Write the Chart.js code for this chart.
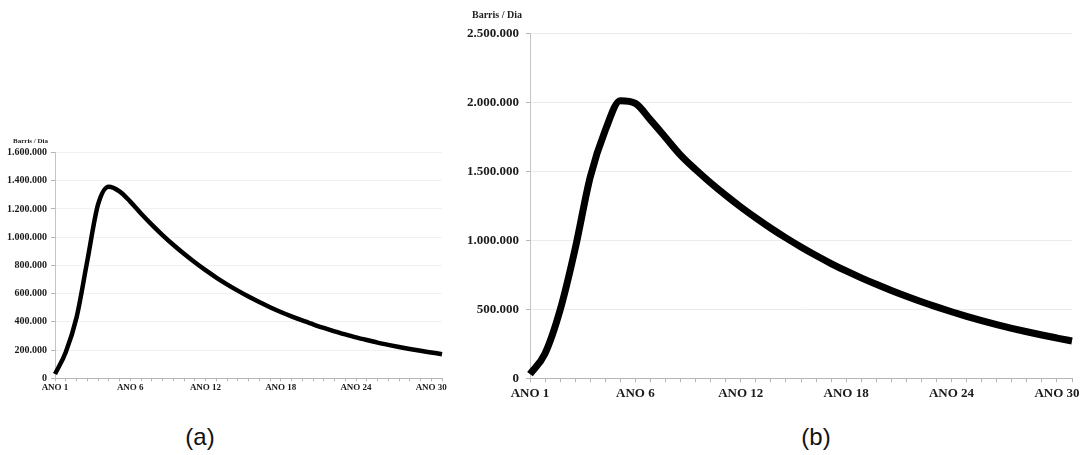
<!DOCTYPE html>
<html lang="pt-BR">
<head>
<meta charset="utf-8">
<title>Produção - Barris / Dia</title>
<script src="https://cdn.jsdelivr.net/npm/chart.js@4.4.1/dist/chart.umd.min.js"></script>
<style>
    html, body { margin: 0; padding: 0; background: #fff; }
    #pagina { position: relative; width: 1083px; height: 455px; overflow: hidden; }
    canvas { position: absolute; }
    #graficoA { left: 0; top: 130px; }
    #graficoB { left: 450px; top: 0; }
    .unidade { position: absolute; font-family: "Liberation Serif", serif; font-weight: bold; color: #222; white-space: nowrap; }
    .legenda { position: absolute; font-family: "Liberation Sans", Arial, sans-serif; font-size: 24px; color: #111; transform: translateX(-50%); }
</style>
</head>
<body>
<div id="pagina">
    <canvas id="graficoA" width="460" height="270"></canvas>
    <canvas id="graficoB" width="633" height="400"></canvas>
    <div class="unidade" style="left:13px; top:137px; font-size:7px;">Barris / Dia</div>
    <div class="unidade" style="left:472px; top:9px; font-size:10px;">Barris / Dia</div>
    <div class="legenda" style="left:200px; top:423px;">(a)</div>
    <div class="legenda" style="left:816px; top:423px;">(b)</div>
</div>

<script>
// ==============================================
// DADOS
// ==============================================
const rotulosAno = ['ANO 1', 'ANO 6', 'ANO 12', 'ANO 18', 'ANO 24', 'ANO 30'];

// produção (barris/dia), cenário (a)
const producaoA = [
    30000, 185000, 430000, 830000, 1230000, 1358000, 1325000, 1252000, 1168000, 1089000,
    1015000, 946000, 882000, 822000, 766000, 714000, 666000, 621000, 579000, 540000,
    504000, 470000, 439000, 410000, 383000, 357000, 333000, 311000, 290000, 271000,
    253000, 237000, 222000, 208000, 195000, 183000, 171000
];

// produção (barris/dia), cenário (b)
const producaoB = [
    30000, 180000, 495000, 940000, 1460000, 1800000, 2015000, 1995000, 1875000, 1748000,
    1620000, 1515000, 1418000, 1328000, 1243000, 1164000, 1089000, 1019000, 953000, 891000,
    833000, 779000, 729000, 682000, 637000, 595000, 555000, 518000, 483000, 450000,
    419000, 390000, 363000, 338000, 314000, 292000, 271000
];

const ticksA = [0, 200000, 400000, 600000, 800000, 1000000, 1200000, 1400000, 1600000];
const ticksB = [0, 500000, 1000000, 1500000, 2000000, 2500000];

// um rótulo a cada 7 marcas do eixo
const periodos = producaoA.map((_, i) => (i % 7 === 0 ? rotulosAno[i / 7] : ''));

// ==============================================
// UTILITÁRIOS
// ==============================================
function formatarNumero(v) {
    return String(Math.round(v)).replace(/\B(?=(\d{3})+(?!\d))/g, '.');
}

function criarGrafico(id, dados, ticks, cfg) {
    const ctx = document.getElementById(id);
    return new Chart(ctx, {
        type: 'line',
        data: {
            labels: periodos,
            datasets: [{
                data: dados,
                borderColor: '#000',
                borderWidth: cfg.linha,
                pointRadius: 0,
                cubicInterpolationMode: 'monotone',
                borderJoinStyle: 'round',
                fill: false
            }]
        },
        options: {
            responsive: false,
            animation: false,
            devicePixelRatio: 1,
            layout: { padding: { top: cfg.topo, right: cfg.direita, bottom: 0, left: 0 } },
            plugins: { legend: { display: false }, tooltip: { enabled: false } },
            scales: {
                x: {
                    type: 'category',
                    offset: false,
                    afterFit: s => { s.height = cfg.alturaX; },
                    grid: { drawOnChartArea: false, drawTicks: true, tickLength: cfg.marcaX, color: '#b5b5b5' },
                    border: { color: '#b5b5b5', width: 1 },
                    ticks: {
                        autoSkip: false,
                        maxRotation: 0,
                        padding: cfg.respiroX,
                        color: '#1a1a1a',
                        font: { family: 'Liberation Serif', weight: 'bold', size: cfg.fonteX }
                    }
                },
                y: {
                    min: 0,
                    max: ticks[ticks.length - 1],
                    afterFit: s => { s.width = cfg.larguraY; },
                    afterBuildTicks: s => { s.ticks = ticks.map(v => ({ value: v })); },
                    grid: { color: cfg.corGrade, tickColor: '#b5b5b5', tickLength: 4 },
                    border: { color: '#c4c4c4', width: 1 },
                    ticks: {
                        padding: cfg.respiroY,
                        color: '#1a1a1a',
                        font: { family: 'Liberation Serif', weight: 'bold', size: cfg.fonteY },
                        callback: v => formatarNumero(v)
                    }
                }
            }
        }
    });
}

// ==============================================
// GRÁFICOS
// ==============================================
criarGrafico('graficoA', producaoA, ticksA, {
    linha: 4.5, topo: 22.5, direita: 18, alturaX: 21.7, larguraY: 55,
    marcaX: 3, respiroX: 1, fonteX: 9, fonteY: 10, respiroY: 4, corGrade: '#f1f1f1'
});

criarGrafico('graficoB', producaoB, ticksB, {
    linha: 7, topo: 33.8, direita: 11, alturaX: 21.7, larguraY: 80,
    marcaX: 4, respiroX: 4, fonteX: 13, fonteY: 13, respiroY: 7, corGrade: '#ebebeb'
});
</script>
</body>
</html>
